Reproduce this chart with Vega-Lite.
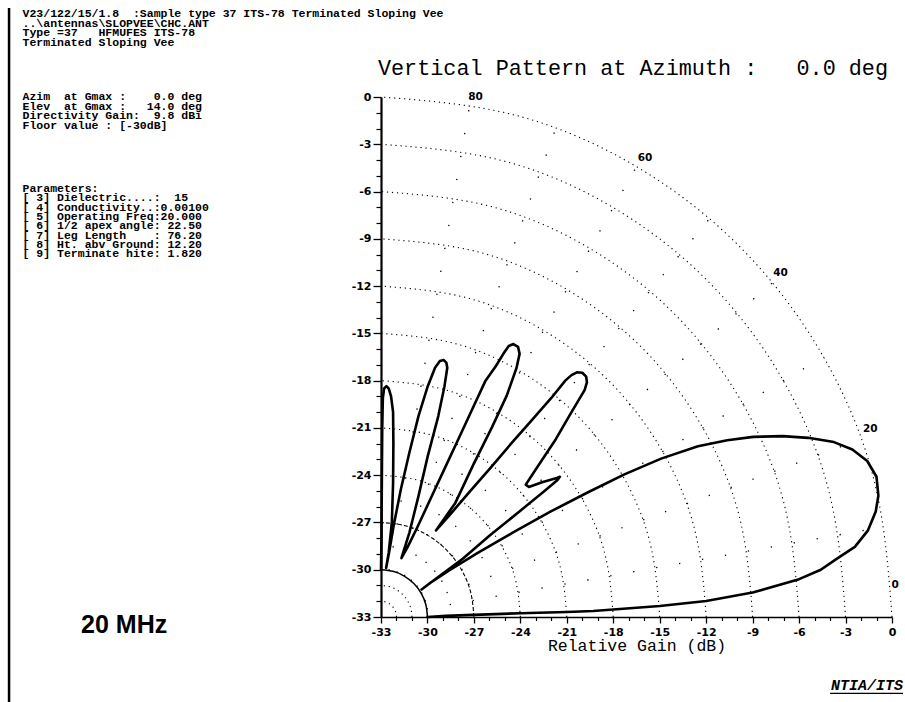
{
  "$schema": "https://vega.github.io/schema/vega-lite/v6.json",
  "width": 511,
  "height": 520,
  "autosize": {"type": "none"},
  "padding": {"left": 381, "top": 97, "right": 13, "bottom": 85},
  "background": "white",
  "config": {"view": {"stroke": null}},
  "resolve": {"axis": {"x": "independent", "y": "independent"}},
  "datasets": {
    "arcs": [
      {"r":1,"a":0,"x":-32,"y":-33},{"r":1,"a":15,"x":-32.034,"y":-32.741},{"r":1,"a":30,"x":-32.134,"y":-32.5},{"r":1,"a":45,"x":-32.293,"y":-32.293},{"r":1,"a":60,"x":-32.5,"y":-32.134},{"r":1,"a":75,"x":-32.741,"y":-32.034},{"r":1,"a":90,"x":-33,"y":-32},
      {"r":2,"a":0,"x":-31,"y":-33},{"r":2,"a":15,"x":-31.068,"y":-32.482},{"r":2,"a":30,"x":-31.268,"y":-32},{"r":2,"a":45,"x":-31.586,"y":-31.586},{"r":2,"a":60,"x":-32,"y":-31.268},{"r":2,"a":75,"x":-32.482,"y":-31.068},{"r":2,"a":90,"x":-33,"y":-31},
      {"r":9,"a":0,"x":-24,"y":-33},{"r":9,"a":15,"x":-24.307,"y":-30.671},{"r":9,"a":30,"x":-25.206,"y":-28.5},{"r":9,"a":45,"x":-26.636,"y":-26.636},{"r":9,"a":60,"x":-28.5,"y":-25.206},{"r":9,"a":75,"x":-30.671,"y":-24.307},{"r":9,"a":90,"x":-33,"y":-24},
      {"r":12,"a":0,"x":-21,"y":-33},{"r":12,"a":15,"x":-21.409,"y":-29.894},{"r":12,"a":30,"x":-22.608,"y":-27},{"r":12,"a":45,"x":-24.515,"y":-24.515},{"r":12,"a":60,"x":-27,"y":-22.608},{"r":12,"a":75,"x":-29.894,"y":-21.409},{"r":12,"a":90,"x":-33,"y":-21},
      {"r":15,"a":0,"x":-18,"y":-33},{"r":15,"a":15,"x":-18.511,"y":-29.118},{"r":15,"a":30,"x":-20.01,"y":-25.5},{"r":15,"a":45,"x":-22.393,"y":-22.393},{"r":15,"a":60,"x":-25.5,"y":-20.01},{"r":15,"a":75,"x":-29.118,"y":-18.511},{"r":15,"a":90,"x":-33,"y":-18},
      {"r":18,"a":0,"x":-15,"y":-33},{"r":18,"a":15,"x":-15.614,"y":-28.342},{"r":18,"a":30,"x":-17.412,"y":-24},{"r":18,"a":45,"x":-20.272,"y":-20.272},{"r":18,"a":60,"x":-24,"y":-17.412},{"r":18,"a":75,"x":-28.342,"y":-15.614},{"r":18,"a":90,"x":-33,"y":-15},
      {"r":21,"a":0,"x":-12,"y":-33},{"r":21,"a":15,"x":-12.716,"y":-27.565},{"r":21,"a":30,"x":-14.813,"y":-22.5},{"r":21,"a":45,"x":-18.151,"y":-18.151},{"r":21,"a":60,"x":-22.5,"y":-14.813},{"r":21,"a":75,"x":-27.565,"y":-12.716},{"r":21,"a":90,"x":-33,"y":-12},
      {"r":24,"a":0,"x":-9,"y":-33},{"r":24,"a":15,"x":-9.818,"y":-26.788},{"r":24,"a":30,"x":-12.215,"y":-21},{"r":24,"a":45,"x":-16.029,"y":-16.029},{"r":24,"a":60,"x":-21,"y":-12.215},{"r":24,"a":75,"x":-26.788,"y":-9.818},{"r":24,"a":90,"x":-33,"y":-9},
      {"r":27,"a":0,"x":-6,"y":-33},{"r":27,"a":15,"x":-6.92,"y":-26.012},{"r":27,"a":30,"x":-9.617,"y":-19.5},{"r":27,"a":45,"x":-13.908,"y":-13.908},{"r":27,"a":60,"x":-19.5,"y":-9.617},{"r":27,"a":75,"x":-26.012,"y":-6.92},{"r":27,"a":90,"x":-33,"y":-6},
      {"r":30,"a":0,"x":-3,"y":-33},{"r":30,"a":15,"x":-4.022,"y":-25.235},{"r":30,"a":30,"x":-7.019,"y":-18},{"r":30,"a":45,"x":-11.787,"y":-11.787},{"r":30,"a":60,"x":-18,"y":-7.019},{"r":30,"a":75,"x":-25.235,"y":-4.022},{"r":30,"a":90,"x":-33,"y":-3},
      {"r":33,"a":0,"x":0,"y":-33},{"r":33,"a":15,"x":-1.124,"y":-24.459},{"r":33,"a":30,"x":-4.421,"y":-16.5},{"r":33,"a":45,"x":-9.665,"y":-9.665},{"r":33,"a":60,"x":-16.5,"y":-4.421},{"r":33,"a":75,"x":-24.459,"y":-1.124},{"r":33,"a":90,"x":-33,"y":0}
    ],
    "arc6": [
      {"a":0,"x":-27,"y":-33},{"a":15,"x":-27.205,"y":-31.447},{"a":30,"x":-27.804,"y":-30},{"a":45,"x":-28.757,"y":-28.757},{"a":60,"x":-30,"y":-27.804},{"a":75,"x":-31.447,"y":-27.205},{"a":90,"x":-33,"y":-27}
    ],
    "floor": [
      {"a":0,"x":-30,"y":-33},{"a":15,"x":-30.102,"y":-32.224},{"a":30,"x":-30.402,"y":-31.5},{"a":45,"x":-30.879,"y":-30.879},{"a":60,"x":-31.5,"y":-30.402},{"a":75,"x":-32.224,"y":-30.102},{"a":90,"x":-33,"y":-30}
    ],
    "spokes": [
      {"d":10,"x":-30.046,"y":-32.479},{"d":10,"x":-0.502,"y":-27.271},
      {"d":20,"x":-30.181,"y":-31.974},{"d":20,"x":-1.99,"y":-21.714},
      {"d":30,"x":-30.402,"y":-31.5},{"d":30,"x":-4.422,"y":-16.5},
      {"d":40,"x":-30.702,"y":-31.072},{"d":40,"x":-7.722,"y":-11.788},
      {"d":50,"x":-31.072,"y":-30.702},{"d":50,"x":-11.788,"y":-7.722},
      {"d":60,"x":-31.5,"y":-30.402},{"d":60,"x":-16.5,"y":-4.422},
      {"d":70,"x":-31.974,"y":-30.181},{"d":70,"x":-21.714,"y":-1.99},
      {"d":80,"x":-32.479,"y":-30.046},{"d":80,"x":-27.271,"y":-0.502}
    ],
    "anglelabels": [
      {"t":"0","x":0.2,"y":-31.0},{"t":"20","x":-1.4,"y":-21.1},{"t":"40","x":-7.2,"y":-11.15},{"t":"60","x":-15.95,"y":-3.85},{"t":"80","x":-26.9,"y":0.0}
    ],
    "pattern": [
      {"i":1,"x":-30.0,"y":-33.0},{"i":2,"x":-28.8,"y":-32.93},{"i":3,"x":-27.5,"y":-32.88},{"i":4,"x":-24.0,"y":-32.76},{"i":5,"x":-21.0,"y":-32.68},{"i":6,"x":-19.3,"y":-32.62},{"i":7,"x":-18.0,"y":-32.52},{"i":8,"x":-15.0,"y":-32.3},{"i":9,"x":-12.0,"y":-31.98},{"i":10,"x":-9.0,"y":-31.45},
      {"i":11,"x":-6.0,"y":-30.6},{"i":12,"x":-4.6,"y":-30.0},{"i":13,"x":-3.6,"y":-29.33},{"i":14,"x":-2.4,"y":-28.55},{"i":15,"x":-1.55,"y":-27.5},{"i":16,"x":-1.05,"y":-26.3},{"i":17,"x":-0.88,"y":-25.3},{"i":18,"x":-1.0,"y":-24.1},{"i":19,"x":-1.6,"y":-23.1},{"i":20,"x":-2.56,"y":-22.37},
      {"i":21,"x":-3.75,"y":-21.9},{"i":22,"x":-5.41,"y":-21.63},{"i":23,"x":-7.07,"y":-21.52},{"i":24,"x":-8.97,"y":-21.57},{"i":25,"x":-10.64,"y":-21.78},{"i":26,"x":-12.53,"y":-22.16},{"i":27,"x":-14.91,"y":-22.95},{"i":28,"x":-17.28,"y":-23.95},{"i":29,"x":-19.66,"y":-25.1},{"i":30,"x":-22.03,"y":-26.3},
      {"i":31,"x":-24.41,"y":-27.6},{"i":32,"x":-26.78,"y":-28.95},{"i":33,"x":-28.6,"y":-30.05},{"i":34,"x":-29.7,"y":-30.75},{"i":35,"x":-30.38,"y":-31.26},
      {"i":36,"x":-29.2,"y":-30.38},{"i":37,"x":-27.72,"y":-29.3},{"i":38,"x":-26.0,"y":-27.85},{"i":39,"x":-24.0,"y":-26.25},{"i":40,"x":-22.5,"y":-25.05},{"i":41,"x":-21.6,"y":-24.3},{"i":42,"x":-21.45,"y":-24.1},{"i":43,"x":-21.7,"y":-24.2},{"i":44,"x":-22.6,"y":-24.45},{"i":45,"x":-23.45,"y":-24.75},
      {"i":46,"x":-23.65,"y":-24.6},{"i":47,"x":-23.2,"y":-23.92},{"i":48,"x":-22.56,"y":-22.97},{"i":49,"x":-21.7,"y":-21.7},{"i":50,"x":-20.83,"y":-20.22},{"i":51,"x":-20.19,"y":-19.16},{"i":52,"x":-19.85,"y":-18.6},{"i":53,"x":-19.7,"y":-18.1},{"i":54,"x":-19.75,"y":-17.75},{"i":55,"x":-20.0,"y":-17.5},
      {"i":56,"x":-20.35,"y":-17.47},{"i":57,"x":-20.7,"y":-17.65},{"i":58,"x":-21.1,"y":-18.0},{"i":59,"x":-22.0,"y":-19.1},{"i":60,"x":-23.3,"y":-20.55},{"i":61,"x":-24.6,"y":-22.0},{"i":62,"x":-25.9,"y":-23.5},{"i":63,"x":-27.2,"y":-24.97},{"i":64,"x":-28.5,"y":-26.45},{"i":65,"x":-29.45,"y":-27.51},
      {"i":66,"x":-28.2,"y":-25.76},{"i":67,"x":-27.02,"y":-23.3},{"i":68,"x":-25.83,"y":-20.95},{"i":69,"x":-24.88,"y":-18.95},{"i":70,"x":-24.25,"y":-17.2},{"i":71,"x":-24.05,"y":-16.3},{"i":72,"x":-24.15,"y":-15.85},{"i":73,"x":-24.45,"y":-15.68},{"i":74,"x":-24.75,"y":-15.8},{"i":75,"x":-25.1,"y":-16.3},
      {"i":76,"x":-25.6,"y":-17.1},{"i":77,"x":-26.25,"y":-18.0},{"i":78,"x":-27.1,"y":-19.8},{"i":79,"x":-28.0,"y":-21.7},{"i":80,"x":-28.9,"y":-23.6},{"i":81,"x":-29.8,"y":-25.5},{"i":82,"x":-30.7,"y":-27.4},{"i":83,"x":-31.3,"y":-28.6},{"i":84,"x":-31.68,"y":-29.26},
      {"i":85,"x":-31.17,"y":-27.66},{"i":86,"x":-30.58,"y":-25.33},{"i":87,"x":-29.98,"y":-22.79},{"i":88,"x":-29.3,"y":-20.25},{"i":89,"x":-28.9,"y":-18.35},{"i":90,"x":-28.72,"y":-17.18},{"i":91,"x":-28.78,"y":-16.86},{"i":92,"x":-28.96,"y":-16.69},{"i":93,"x":-29.2,"y":-16.76},{"i":94,"x":-29.51,"y":-17.18},
      {"i":95,"x":-29.98,"y":-18.35},{"i":96,"x":-30.58,"y":-20.25},{"i":97,"x":-31.17,"y":-22.58},{"i":98,"x":-31.72,"y":-24.91},{"i":99,"x":-32.19,"y":-27.24},{"i":100,"x":-32.48,"y":-28.93},{"i":101,"x":-32.67,"y":-29.89},
      {"i":102,"x":-32.5,"y":-28.9},{"i":103,"x":-32.3,"y":-27.0},{"i":104,"x":-32.22,"y":-24.5},{"i":105,"x":-32.2,"y":-22.0},{"i":106,"x":-32.22,"y":-20.0},{"i":107,"x":-32.35,"y":-19.0},{"i":108,"x":-32.5,"y":-18.5},{"i":109,"x":-32.65,"y":-18.35},{"i":110,"x":-32.8,"y":-18.5},
      {"i":111,"x":-32.88,"y":-19.1},{"i":112,"x":-32.92,"y":-21.0},{"i":113,"x":-32.95,"y":-25.0},{"i":114,"x":-32.97,"y":-28.0},{"i":115,"x":-33.0,"y":-30.0}
    ]
  },
  "layer": [
    {
      "data": {"name": "arcs"},
      "mark": {"type": "line", "interpolate": "natural", "stroke": "black", "strokeWidth": 1.1, "strokeDash": [1.2, 3.8]},
      "encoding": {
        "x": {"field": "x", "type": "quantitative", "scale": {"domain": [-33, 0], "nice": false, "zero": false},
          "axis": {"orient": "bottom", "values": [-33,-30,-27,-24,-21,-18,-15,-12,-9,-6,-3,0],
            "title": "Relative Gain (dB)", "titleFont": "Liberation Mono", "titleFontSize": 16.5, "titleFontWeight": "normal", "titleColor": "black", "titlePadding": 0,
            "labelExpr": "'' + datum.value",
            "labelFont": "DejaVu Sans", "labelFontWeight": "bold", "labelFontSize": 11, "labelColor": "black", "labelPadding": 3,
            "labelOverlap": false, "labelFlush": false, "labelBound": false,
            "tickSize": 6, "tickColor": "black", "tickWidth": 1.3, "domainColor": "black", "domainWidth": 1.6, "grid": false}},
        "y": {"field": "y", "type": "quantitative", "scale": {"domain": [-33, 0], "nice": false, "zero": false},
          "axis": {"orient": "left", "values": [-33,-30,-27,-24,-21,-18,-15,-12,-9,-6,-3,0],
            "title": null,
            "labelExpr": "'' + datum.value",
            "labelFont": "DejaVu Sans", "labelFontWeight": "bold", "labelFontSize": 11, "labelColor": "black", "labelPadding": 2,
            "labelOverlap": false, "labelFlush": false, "labelBound": false,
            "tickSize": 8, "tickColor": "black", "tickWidth": 1.3, "domainColor": "black", "domainWidth": 2.2, "grid": false}},
        "detail": {"field": "r", "type": "nominal"},
        "order": {"field": "a", "type": "quantitative"}
      }
    },
    {
      "data": {"name": "spokes"},
      "mark": {"type": "line", "stroke": "black", "strokeWidth": 1.3, "strokeDash": [1.3, 22]},
      "encoding": {
        "x": {"field": "x", "type": "quantitative", "scale": {"domain": [-33, 0], "nice": false, "zero": false},
          "axis": {"orient": "bottom", "values": [-32,-31,-29,-28,-26,-25,-23,-22,-20,-19,-17,-16,-14,-13,-11,-10,-8,-7,-5,-4,-2,-1],
            "labels": false, "domain": false, "title": null, "tickSize": 3.5, "tickColor": "black", "tickWidth": 1.2, "grid": false}},
        "y": {"field": "y", "type": "quantitative", "scale": {"domain": [-33, 0], "nice": false, "zero": false},
          "axis": {"orient": "left", "values": [-32,-31,-29,-28,-26,-25,-23,-22,-20,-19,-17,-16,-14,-13,-11,-10,-8,-7,-5,-4,-2,-1],
            "labels": false, "domain": false, "title": null, "tickSize": 5, "tickColor": "black", "tickWidth": 1.2, "grid": false}},
        "detail": {"field": "d", "type": "nominal"}
      }
    },
    {
      "data": {"name": "arc6"},
      "mark": {"type": "line", "interpolate": "natural", "stroke": "black", "strokeWidth": 1.1, "strokeDash": [4, 2]},
      "encoding": {
        "x": {"field": "x", "type": "quantitative", "scale": {"domain": [-33, 0], "nice": false, "zero": false}, "axis": null},
        "y": {"field": "y", "type": "quantitative", "scale": {"domain": [-33, 0], "nice": false, "zero": false}, "axis": null},
        "order": {"field": "a", "type": "quantitative"}
      }
    },
    {
      "data": {"name": "floor"},
      "mark": {"type": "line", "interpolate": "natural", "stroke": "black", "strokeWidth": 1.5},
      "encoding": {
        "x": {"field": "x", "type": "quantitative", "scale": {"domain": [-33, 0], "nice": false, "zero": false}, "axis": null},
        "y": {"field": "y", "type": "quantitative", "scale": {"domain": [-33, 0], "nice": false, "zero": false}, "axis": null},
        "order": {"field": "a", "type": "quantitative"}
      }
    },
    {
      "data": {"name": "pattern"},
      "mark": {"type": "line", "stroke": "black", "strokeWidth": 2.6, "strokeJoin": "round", "strokeCap": "round"},
      "encoding": {
        "x": {"field": "x", "type": "quantitative", "scale": {"domain": [-33, 0], "nice": false, "zero": false}, "axis": null},
        "y": {"field": "y", "type": "quantitative", "scale": {"domain": [-33, 0], "nice": false, "zero": false}, "axis": null},
        "order": {"field": "i", "type": "quantitative"}
      }
    },
    {
      "data": {"name": "anglelabels"},
      "mark": {"type": "text", "font": "DejaVu Sans", "fontWeight": "bold", "fontSize": 10.5, "align": "center", "baseline": "middle", "color": "black", "clip": false},
      "encoding": {
        "x": {"field": "x", "type": "quantitative", "scale": {"domain": [-33, 0], "nice": false, "zero": false}, "axis": null},
        "y": {"field": "y", "type": "quantitative", "scale": {"domain": [-33, 0], "nice": false, "zero": false}, "axis": null},
        "text": {"field": "t"}
      }
    },
    {
      "data": {"values": [{}]},
      "mark": {"type": "text", "text": ["V23/122/15/1.8\u00a0\u00a0:Sample type 37 ITS-78 Terminated Sloping Vee", "..\\antennas\\SLOPVEE\\CHC.ANT", "Type =37\u00a0\u00a0\u00a0HFMUFES ITS-78", "Terminated Sloping Vee"],
        "font": "Liberation Mono", "fontWeight": "bold", "fontSize": 11.5, "lineHeight": 9.7, "align": "left", "baseline": "alphabetic", "color": "black", "clip": false},
      "encoding": {
        "x": {"datum": -56.15, "type": "quantitative", "scale": {"domain": [-33, 0], "nice": false, "zero": false}, "axis": null},
        "y": {"datum": 5.08, "type": "quantitative", "scale": {"domain": [-33, 0], "nice": false, "zero": false}, "axis": null}
      }
    },
    {
      "data": {"values": [{}]},
      "mark": {"type": "text", "text": ["Azim\u00a0\u00a0at Gmax :\u00a0\u00a0\u00a0\u00a00.0 deg", "Elev\u00a0\u00a0at Gmax :\u00a0\u00a0\u00a014.0 deg", "Directivity Gain:\u00a0\u00a09.8 dBi", "Floor value : [-30dB]"],
        "font": "Liberation Mono", "fontWeight": "bold", "fontSize": 11.5, "lineHeight": 9.6, "align": "left", "baseline": "alphabetic", "color": "black", "clip": false},
      "encoding": {
        "x": {"datum": -56.15, "type": "quantitative", "scale": {"domain": [-33, 0], "nice": false, "zero": false}, "axis": null},
        "y": {"datum": -0.19, "type": "quantitative", "scale": {"domain": [-33, 0], "nice": false, "zero": false}, "axis": null}
      }
    },
    {
      "data": {"values": [{}]},
      "mark": {"type": "text", "text": ["Parameters:", "[ 3] Dielectric....:\u00a0\u00a015", "[ 4] Conductivity..:0.00100", "[ 5] Operating Freq:20.000", "[ 6] 1/2 apex angle: 22.50", "[ 7] Leg Length\u00a0\u00a0\u00a0\u00a0: 76.20", "[ 8] Ht. abv Ground: 12.20", "[ 9] Terminate hite: 1.820"],
        "font": "Liberation Mono", "fontWeight": "bold", "fontSize": 11.5, "lineHeight": 9.3, "align": "left", "baseline": "alphabetic", "color": "black", "clip": false},
      "encoding": {
        "x": {"datum": -56.15, "type": "quantitative", "scale": {"domain": [-33, 0], "nice": false, "zero": false}, "axis": null},
        "y": {"datum": -6.03, "type": "quantitative", "scale": {"domain": [-33, 0], "nice": false, "zero": false}, "axis": null}
      }
    },
    {
      "data": {"values": [{}]},
      "mark": {"type": "text", "text": "Vertical Pattern at Azimuth :\u00a0\u00a0\u00a00.0 deg",
        "font": "Liberation Mono", "fontSize": 21.8, "align": "left", "baseline": "alphabetic", "color": "black", "clip": false},
      "encoding": {
        "x": {"datum": -33.2, "type": "quantitative", "scale": {"domain": [-33, 0], "nice": false, "zero": false}, "axis": null},
        "y": {"datum": 1.4, "type": "quantitative", "scale": {"domain": [-33, 0], "nice": false, "zero": false}, "axis": null}
      }
    },
    {
      "data": {"values": [{}]},
      "mark": {"type": "text", "text": "20 MHz",
        "font": "Liberation Sans", "fontWeight": "bold", "fontSize": 25, "align": "left", "baseline": "alphabetic", "color": "black", "clip": false},
      "encoding": {
        "x": {"datum": -52.37, "type": "quantitative", "scale": {"domain": [-33, 0], "nice": false, "zero": false}, "axis": null},
        "y": {"datum": -34.01, "type": "quantitative", "scale": {"domain": [-33, 0], "nice": false, "zero": false}, "axis": null}
      }
    },
    {
      "data": {"values": [{}]},
      "mark": {"type": "text", "text": "NTIA/ITS",
        "font": "Liberation Mono", "fontWeight": "bold", "fontStyle": "italic", "fontSize": 15, "align": "right", "baseline": "alphabetic", "color": "black", "clip": false},
      "encoding": {
        "x": {"datum": 0.71, "type": "quantitative", "scale": {"domain": [-33, 0], "nice": false, "zero": false}, "axis": null},
        "y": {"datum": -37.63, "type": "quantitative", "scale": {"domain": [-33, 0], "nice": false, "zero": false}, "axis": null}
      }
    },
    {
      "data": {"values": [{}]},
      "mark": {"type": "rule", "stroke": "black", "strokeWidth": 1.2, "clip": false},
      "encoding": {
        "x": {"datum": -4.0, "type": "quantitative", "scale": {"domain": [-33, 0], "nice": false, "zero": false}, "axis": null},
        "x2": {"datum": 0.71},
        "y": {"datum": -37.85, "type": "quantitative", "scale": {"domain": [-33, 0], "nice": false, "zero": false}, "axis": null}
      }
    },
    {
      "data": {"values": [{}]},
      "mark": {"type": "rule", "stroke": "black", "strokeWidth": 2.5, "clip": false},
      "encoding": {
        "x": {"datum": -57.02, "type": "quantitative", "scale": {"domain": [-33, 0], "nice": false, "zero": false}, "axis": null},
        "y": {"datum": 5.65, "type": "quantitative", "scale": {"domain": [-33, 0], "nice": false, "zero": false}, "axis": null},
        "y2": {"datum": -38.4}
      }
    }
  ]
}
